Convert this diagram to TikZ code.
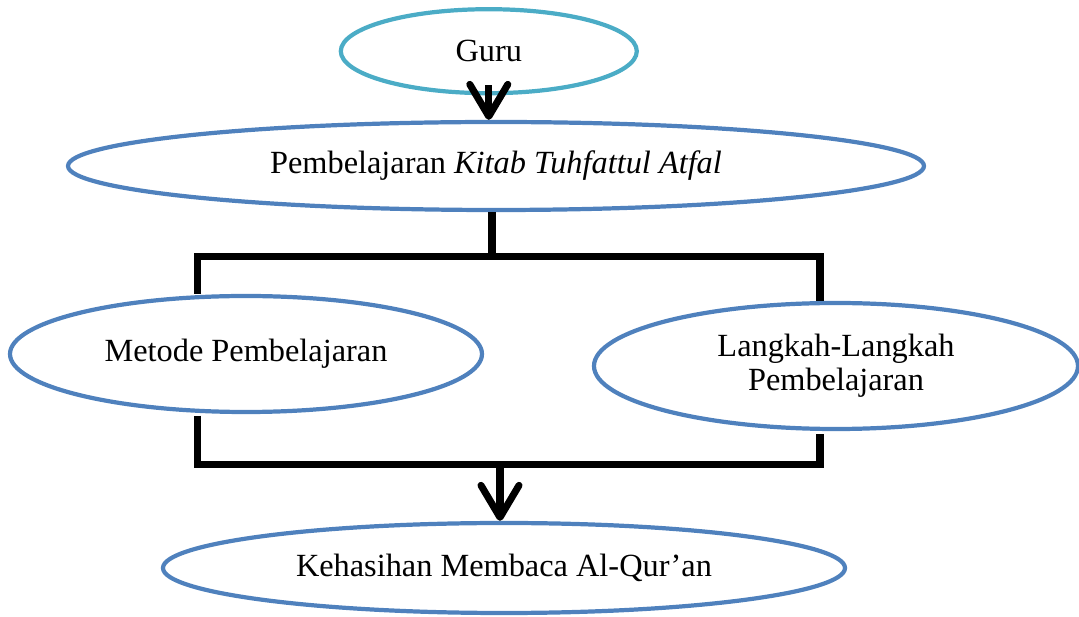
\documentclass[tikz,border=0pt]{standalone}
\usepackage{fontspec}
\setmainfont{Liberation Serif}
\usetikzlibrary{shapes.geometric,arrows.meta,calc}
\definecolor{gurublue}{HTML}{4BACC6}
\definecolor{boxblue}{HTML}{4F81BD}
\begin{document}
\begin{tikzpicture}[
    oval/.style={ellipse, draw=boxblue, line width=3pt, inner sep=0pt, align=center,
                 font=\fontsize{23}{27}\selectfont},
    conn/.style={line width=5pt, black},
    arr/.style={conn, -{Straight Barb[length=0.8cm, width=0.95cm, round]}}
]
    % Fix the page size
    \useasboundingbox (0,0) rectangle (26.975,-15.425);

    % Draw the ovals
    % Top oval
    \node[oval, draw=gurublue, minimum width=7.4cm, minimum height=2.1cm] (guru) at (12.22,-1.28)
        {\raisebox{-6pt}{Guru}};

    % Second oval
    \node[oval, minimum width=21.4cm, minimum height=2.2cm] (pembel) at (12.4,-4.15)
        {Pembelajaran \textit{Kitab Tuhfattul Atfal}};

    % Left and right ovals
    \node[oval, minimum width=11.8cm, minimum height=2.9cm] (metode) at (6.15,-8.85) {Metode Pembelajaran};
    \node[oval, minimum width=12.1cm, minimum height=3.15cm] (langkah) at (20.9,-9.15)
        {Langkah-Langkah\\[-3pt]Pembelajaran};

    % Bottom oval
    \node[oval, minimum width=17.05cm, minimum height=2.25cm] (hasil) at (12.6,-14.2)
        {Kehasihan Membaca Al-Qur’an};

    % Draw the connectors
    \coordinate (topL) at (4.93,-6.42);
    \coordinate (topR) at (20.5,-6.42);
    \coordinate (botL) at (4.93,-11.62);
    \coordinate (botR) at (20.5,-11.62);
    \coordinate (botM) at (12.5,-11.62);

    % Arrow below Guru
    \draw[arr] ([yshift=7pt]guru.south) -- (guru.south |- pembel.north);

    % Split into two
    \draw[conn] (pembel.south -| 12.3,0) -- (12.3,0 |- topL);
    \draw[conn] (metode.north -| topL) -- (topL) -- (topR) -- (langkah.north -| topR);

    % Join back together
    \draw[conn] ([yshift=-1pt]metode.south -| botL) -- (botL) -- (botR) -- ([yshift=-2pt]langkah.south -| botR);
    \draw[arr] (botM) -- (botM |- hasil.north);

\end{tikzpicture}
\end{document}
